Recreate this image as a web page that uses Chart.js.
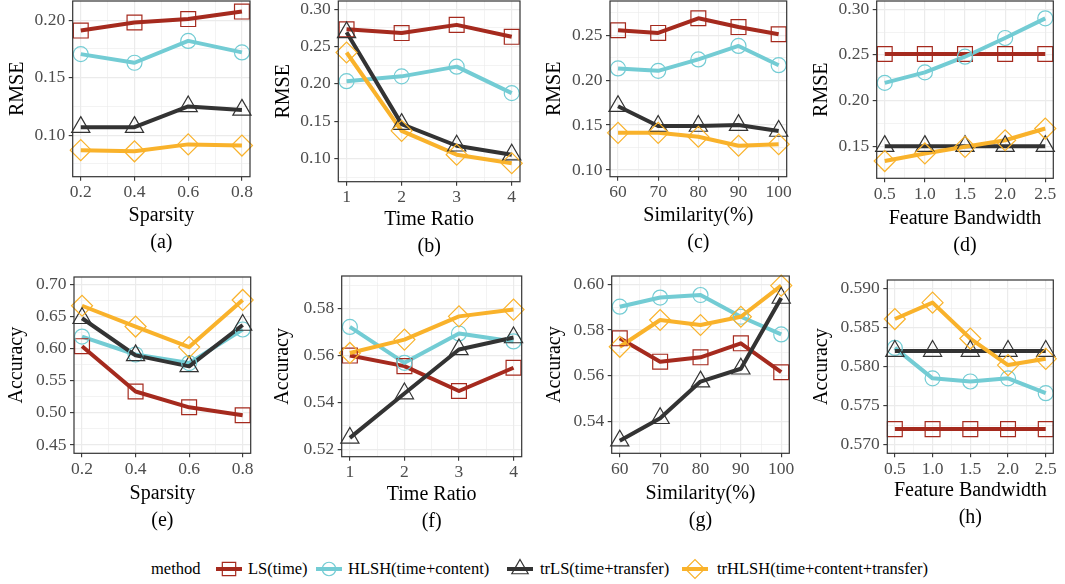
<!DOCTYPE html>
<html>
<head>
<meta charset="utf-8">
<script src="https://cdn.jsdelivr.net/npm/chart.js@4.4.1/dist/chart.umd.min.js"></script>
<style>
html,body{margin:0;padding:0;background:#ffffff;}
body{width:1065px;height:584px;overflow:hidden;position:relative;font-family:'Liberation Serif','Times New Roman',serif;}
canvas{position:absolute;}
.lg{position:absolute;top:558px;height:22px;line-height:22px;font-size:16.5px;color:#000;white-space:nowrap;font-family:'Liberation Serif','Times New Roman',serif;}
</style>
</head>
<body>
<script>
// ---------------- data ----------------
const methods = ['LS(time)', 'HLSH(time+content)', 'trLS(time+transfer)', 'trHLSH(time+content+transfer)'];
const legendTitle = 'method';

const sparsity   = [0.2, 0.4, 0.6, 0.8];
const timeRatio  = [1, 2, 3, 4];
const similarity = [60, 70, 80, 90, 100];
const bandwidth  = [0.5, 1.0, 1.5, 2.0, 2.5];

const sparsityTicks   = ['0.2', '0.4', '0.6', '0.8'];
const timeRatioTicks  = ['1', '2', '3', '4'];
const similarityTicks = ['60', '70', '80', '90', '100'];
const bandwidthTicks  = ['0.5', '1.0', '1.5', '2.0', '2.5'];

// (a) RMSE vs Sparsity
const rmseSparsityLS     = [0.191, 0.198, 0.201, 0.2075];
const rmseSparsityHLSH   = [0.1705, 0.163, 0.182, 0.172];
const rmseSparsityTrLS   = [0.107, 0.107, 0.125, 0.122];
const rmseSparsityTrHLSH = [0.087, 0.086, 0.092, 0.091];
const rmseSparsityTicks  = ['0.10', '0.15', '0.20'];

// (b) RMSE vs Time Ratio
const rmseTimeLS     = [0.273, 0.268, 0.279, 0.263];
const rmseTimeHLSH   = [0.2035, 0.21, 0.223, 0.1875];
const rmseTimeTrLS   = [0.269, 0.146, 0.117, 0.105];
const rmseTimeTrHLSH = [0.242, 0.137, 0.105, 0.0935];
const rmseTimeTicks  = ['0.10', '0.15', '0.20', '0.25', '0.30'];

// (c) RMSE vs Similarity
const rmseSimLS     = [0.2555, 0.2525, 0.2688, 0.259, 0.251];
const rmseSimHLSH   = [0.213, 0.2103, 0.223, 0.238, 0.2166];
const rmseSimTrLS   = [0.171, 0.149, 0.149, 0.15, 0.1434];
const rmseSimTrHLSH = [0.1414, 0.1414, 0.137, 0.127, 0.1287];
const rmseSimTicks  = ['0.10', '0.15', '0.20', '0.25'];

// (d) RMSE vs Feature Bandwidth
const rmseBwLS     = [0.251, 0.251, 0.251, 0.251, 0.251];
const rmseBwHLSH   = [0.2193, 0.2308, 0.248, 0.2685, 0.29];
const rmseBwTrLS   = [0.15, 0.15, 0.15, 0.15, 0.15];
const rmseBwTrHLSH = [0.1337, 0.142, 0.1493, 0.1565, 0.1693];
const rmseBwTicks  = ['0.15', '0.20', '0.25', '0.30'];

// (e) Accuracy vs Sparsity
const accSparsityLS     = [0.604, 0.5333, 0.5087, 0.4963];
const accSparsityHLSH   = [0.619, 0.591, 0.5776, 0.63];
const accSparsityTrLS   = [0.6475, 0.5896, 0.5725, 0.637];
const accSparsityTrHLSH = [0.667, 0.6346, 0.6025, 0.676];
const accSparsityTicks  = ['0.45', '0.50', '0.55', '0.60', '0.65', '0.70'];

// (f) Accuracy vs Time Ratio
const accTimeLS     = [0.56, 0.5555, 0.5449, 0.5548];
const accTimeHLSH   = [0.5722, 0.5569, 0.5694, 0.566];
const accTimeTrLS   = [0.5249, 0.5438, 0.5626, 0.5677];
const accTimeTrHLSH = [0.5611, 0.5668, 0.5767, 0.5796];
const accTimeTicks  = ['0.52', '0.54', '0.56', '0.58'];

// (g) Accuracy vs Similarity
const accSimLS     = [0.5764, 0.5662, 0.5681, 0.5742, 0.5616];
const accSimHLSH   = [0.5902, 0.5942, 0.5953, 0.5858, 0.5781];
const accSimTrLS   = [0.5317, 0.5415, 0.5575, 0.5631, 0.594];
const accSimTrHLSH = [0.5727, 0.5844, 0.5822, 0.5858, 0.5994];
const accSimTicks  = ['0.54', '0.56', '0.58', '0.60'];

// (h) Accuracy vs Feature Bandwidth
const accBwLS     = [0.572, 0.572, 0.572, 0.572, 0.572];
const accBwHLSH   = [0.5824, 0.5785, 0.5781, 0.5785, 0.5766];
const accBwTrLS   = [0.582, 0.582, 0.582, 0.582, 0.582];
const accBwTrHLSH = [0.5861, 0.5882, 0.5836, 0.5802, 0.581];
const accBwTicks  = ['0.570', '0.575', '0.580', '0.585', '0.590'];

// ---------------- styles ----------------
const FONT = "'Liberation Serif','Times New Roman',serif";
const colors = ['#A52A1E', '#73CCD4', '#333333', '#F9B22B'];
const pointStyles = ['rect', 'circle', 'triangle', 'rectRot'];
const pointRadii = [10.5, 7.5, 10.5, 10.5];

// panel definitions (axis ranges follow ggplot's 5% expansion)
const panels = [
  {label:'(a)', xTitle:'Sparsity', yTitle:'RMSE', xs:sparsity, xTicks:sparsityTicks, xRange:[0.17,0.83],
   yTicks:rmseSparsityTicks, yRange:[0.0639,0.2167], series:[rmseSparsityLS,rmseSparsityHLSH,rmseSparsityTrLS,rmseSparsityTrHLSH],
   box:{l:72.7,r:250,t:0.5,b:176.7,yt:18.3,lab:243}},
  {label:'(b)', xTitle:'Time Ratio', yTitle:'RMSE', xs:timeRatio, xTicks:timeRatioTicks, xRange:[0.85,4.15],
   yTicks:rmseTimeTicks, yRange:[0.0688,0.311], series:[rmseTimeLS,rmseTimeHLSH,rmseTimeTrLS,rmseTimeTrHLSH],
   box:{l:338.3,r:520,t:0.5,b:181.7,yt:284.3,lab:247}},
  {label:'(c)', xTitle:'Similarity(%)', yTitle:'RMSE', xs:similarity, xTicks:similarityTicks, xRange:[58,102],
   yTicks:rmseSimTicks, yRange:[0.0926,0.288], series:[rmseSimLS,rmseSimHLSH,rmseSimTrLS,rmseSimTrHLSH],
   box:{l:610,r:786.7,t:0.5,b:176.7,yt:555,lab:243}},
  {label:'(d)', xTitle:'Feature Bandwidth', yTitle:'RMSE', xs:bandwidth, xTicks:bandwidthTicks, xRange:[0.4,2.6],
   yTicks:rmseBwTicks, yRange:[0.1148,0.309], series:[rmseBwLS,rmseBwHLSH,rmseBwTrLS,rmseBwTrHLSH],
   box:{l:876.7,r:1055,t:0.5,b:178.3,yt:821.7,lab:246}},
  {label:'(e)', xTitle:'Sparsity', yTitle:'Accuracy', xs:sparsity, xTicks:sparsityTicks, xRange:[0.17,0.83],
   yTicks:accSparsityTicks, yRange:[0.437,0.7118], series:[accSparsityLS,accSparsityHLSH,accSparsityTrLS,accSparsityTrHLSH],
   box:{l:74,r:250.7,t:276.7,b:453.3,yt:16.7,lab:521}},
  {label:'(f)', xTitle:'Time Ratio', yTitle:'Accuracy', xs:timeRatio, xTicks:timeRatioTicks, xRange:[0.85,4.15],
   yTicks:accTimeTicks, yRange:[0.5169,0.5939], series:[accTimeLS,accTimeHLSH,accTimeTrLS,accTimeTrHLSH],
   box:{l:341.7,r:521.7,t:275.7,b:456.7,yt:283.3,lab:522}},
  {label:'(g)', xTitle:'Similarity(%)', yTitle:'Accuracy', xs:similarity, xTicks:similarityTicks, xRange:[58,102],
   yTicks:accSimTicks, yRange:[0.5262,0.6036], series:[accSimLS,accSimHLSH,accSimTrLS,accSimTrHLSH],
   box:{l:611.7,r:789.3,t:276,b:453.3,yt:555,lab:521}},
  {label:'(h)', xTitle:'Feature Bandwidth', yTitle:'Accuracy', xs:bandwidth, xTicks:bandwidthTicks, xRange:[0.4,2.6],
   yTicks:accBwTicks, yRange:[0.5689,0.5911], series:[accBwLS,accBwHLSH,accBwTrLS,accBwTrHLSH],
   box:{l:887.3,r:1060,t:280,b:453.3,yt:821.7,lab:518}}
];

// ---------------- helpers ----------------
function gridValues(labels, range) {
  const majors = labels.map(parseFloat);
  const step = majors[1] - majors[0];
  const vals = majors.slice();
  for (let k = -1; k < majors.length; k++) {
    const v = +(majors[0] + (k + 0.5) * step).toFixed(8);
    if (v >= range[0] && v <= range[1]) vals.push(v);
  }
  vals.sort((a, b) => a - b);
  return {majors, vals};
}
function labelFor(labels, majors, v) {
  for (let i = 0; i < majors.length; i++) if (Math.abs(majors[i] - v) < 1e-9) return labels[i];
  return '';
}
function isMajor(majors, v) {
  return majors.some(m => Math.abs(m - v) < 1e-9);
}

const borderPlugin = {
  id: 'panelBorder',
  afterDatasetsDraw(chart) {
    const {ctx, chartArea: a} = chart;
    ctx.save();
    ctx.strokeStyle = '#333333';
    ctx.lineWidth = 1.2;
    ctx.strokeRect(a.left, a.top, a.right - a.left, a.bottom - a.top);
    ctx.restore();
  }
};

function axisCfg(labels, range, isX, title, titleLines, box) {
  const g = gridValues(labels, range);
  return {
    type: 'linear',
    position: isX ? 'bottom' : 'left',
    min: range[0], max: range[1],
    afterBuildTicks: (scale) => { scale.ticks = g.vals.map(v => ({value: v})); },
    afterFit: (scale) => {
      if (isX) scale.height = box.H; else scale.width = box.YW;
    },
    border: {display: false},
    grid: {
      color: '#EBEBEB',
      lineWidth: (c) => (c.tick && !isMajor(g.majors, c.tick.value)) ? 0.6 : 1.2,
      tickColor: (c) => (c.tick && !isMajor(g.majors, c.tick.value)) ? 'rgba(0,0,0,0)' : '#333333',
      tickLength: 4,
      tickWidth: 1.1,
      drawTicks: true,
      drawOnChartArea: true
    },
    ticks: {
      autoSkip: false,
      maxRotation: 0,
      minRotation: 0,
      padding: isX ? 1.5 : 3.5,
      color: '#4D4D4D',
      font: {family: FONT, size: 17.5, lineHeight: 1.2},
      callback: (v) => labelFor(labels, g.majors, v)
    },
    title: {
      display: true,
      text: titleLines,
      color: '#000000',
      font: {family: FONT, size: 20, lineHeight: isX ? 1.35 : 1.2},
      padding: {top: 0, bottom: 0}
    }
  };
}

function makePanel(p) {
  const B = p.box;
  const YW = B.l - B.yt + 12;
  const cl = Math.round(B.l - YW);
  const ywr = B.l - cl;
  const ct = Math.round(B.t - 14);
  const pt = B.t - ct;
  const plotW = B.r - B.l, plotH = B.b - B.t;
  const H = B.lab - B.b + 13.5;
  const padRightWanted = Math.min(12, 1065 - B.r);
  const cw = Math.ceil(ywr + plotW + padRightWanted);
  const pr = cw - ywr - plotW;
  const ch = Math.ceil(pt + plotH + H);
  const pb = ch - pt - plotH - H;
  const cv = document.createElement('canvas');
  cv.width = cw; cv.height = ch;
  cv.style.left = cl + 'px'; cv.style.top = ct + 'px';
  cv.style.width = cw + 'px'; cv.style.height = ch + 'px';
  document.body.appendChild(cv);
  const box = {YW: ywr, H: H};

  const datasets = [];
  p.series.forEach((ys, i) => {
    const pts = p.xs.map((x, j) => ({x: x, y: ys[j]}));
    datasets.push({
      label: methods[i] + ' line', data: pts, order: 7 - i,
      borderColor: colors[i], borderWidth: 4, pointRadius: 0, pointHoverRadius: 0,
      tension: 0, borderJoinStyle: 'round', borderCapStyle: 'butt', fill: false, clip: false
    });
    datasets.push({
      label: methods[i], data: pts, order: 3 - i, showLine: false,
      pointStyle: pointStyles[i], pointRadius: pointRadii[i], pointHoverRadius: pointRadii[i],
      pointBorderColor: colors[i], pointBackgroundColor: 'rgba(0,0,0,0)', pointBorderWidth: 1.2,
      clip: false
    });
  });

  new Chart(cv, {
    type: 'line',
    data: {datasets},
    options: {
      responsive: false,
      animation: false,
      devicePixelRatio: 1,
      events: [],
      layout: {padding: {left: 0, top: pt, right: pr, bottom: pb}},
      plugins: {legend: {display: false}, tooltip: {enabled: false}, title: {display: false}},
      scales: {
        x: axisCfg(p.xTicks, p.xRange, true, p.xTitle, [p.xTitle, p.label], box),
        y: axisCfg(p.yTicks, p.yRange, false, p.yTitle, p.yTitle, box)
      }
    },
    plugins: [borderPlugin]
  });
}

panels.forEach(makePanel);

// ---------------- legend ----------------
const legendTextLeft = [248, 348, 540, 717];
const legendIconCenter = [229, 329, 519.5, 694.5];
(function buildLegend() {
  const t = document.createElement('div');
  t.className = 'lg'; t.style.left = '151px'; t.textContent = legendTitle;
  document.body.appendChild(t);
  methods.forEach((m, i) => {
    const cv = document.createElement('canvas');
    cv.width = 32; cv.height = 26;
    cv.style.left = Math.round(legendIconCenter[i] - 16) + 'px';
    cv.style.top = '556px';
    document.body.appendChild(cv);
    const ctx = cv.getContext('2d');
    ctx.strokeStyle = colors[i];
    ctx.lineWidth = 4;
    ctx.beginPath(); ctx.moveTo(3, 13); ctx.lineTo(29, 13); ctx.stroke();
    ctx.lineWidth = 1.2;
    ctx.fillStyle = 'rgba(0,0,0,0)';
    if (Chart.helpers && Chart.helpers.drawPoint) {
      Chart.helpers.drawPoint(ctx, {pointStyle: pointStyles[i], radius: pointRadii[i] * 0.9, borderWidth: 1.2, rotation: 0}, 16, 13);
    }
    const s = document.createElement('div');
    s.className = 'lg'; s.style.left = legendTextLeft[i] + 'px'; s.textContent = m;
    document.body.appendChild(s);
  });
})();
</script>
</body>
</html>
